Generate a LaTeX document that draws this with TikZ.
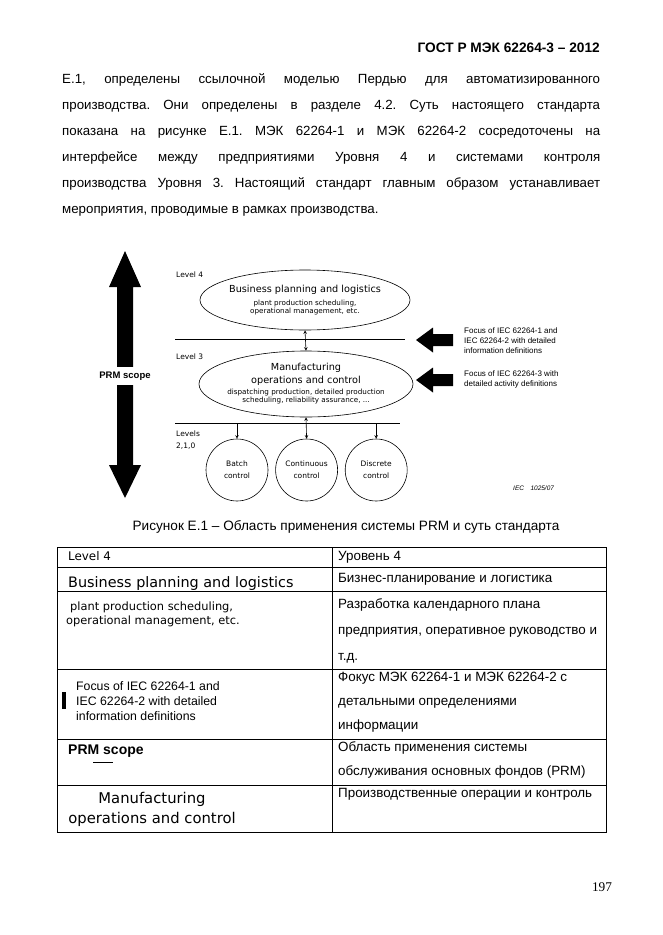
\documentclass[tikz,border=0pt]{standalone}
\usepackage{fontspec}
\setmainfont{Liberation Sans}
\newfontfamily\diafont{DejaVu Sans}
\newfontfamily\pagenofont{Liberation Serif}
\usetikzlibrary{shapes.geometric, arrows, positioning}
\frenchspacing
\newcommand{\ellbig}{\fontsize{9.7}{12}\selectfont}
\tikzstyle{bodytext} = [anchor=north west, inner sep=0pt, text width=538pt, align=justify, font=\fontsize{13.3}{26}\selectfont]
\tikzstyle{level} = [anchor=base west, inner sep=0pt, align=left, font=\diafont\fontsize{7.5}{12}\selectfont]
\tikzstyle{activity} = [ellipse, draw=black, line width=0.6pt, inner sep=0pt]
\tikzstyle{acttext} = [inner sep=0pt, align=center, font=\diafont\fontsize{7.2}{12.5}\selectfont]
\tikzstyle{control} = [circle, draw=black, line width=0.6pt, minimum size=62pt, inner sep=0pt, align=center, font=\diafont\fontsize{7.5}{12}\selectfont]
\tikzstyle{focus} = [anchor=north west, inner sep=0pt, align=left, font=\fontsize{8}{10}\selectfont]
\tikzstyle{link} = [line width=0.6pt, ->, >=stealth]
\tikzstyle{twoway} = [line width=0.6pt, <->, >=stealth]
\tikzstyle{levelline} = [line width=0.6pt]
\tikzstyle{grid} = [line width=0.9pt]
\tikzstyle{cellru} = [anchor=north west, inner sep=0pt, align=left, font=\fontsize{13.4}{26}\selectfont]
\tikzstyle{cellen} = [anchor=base west, inner sep=0pt, align=left]

\begin{document}
\begin{tikzpicture}[x=1pt, y=-1pt]
    \useasboundingbox (0,0) rectangle (662,935);
    \fill [white] (0,0) rectangle (662,935);

    \node (gost) [anchor=base east, inner sep=0pt, font=\bfseries\fontsize{13.7}{16}\selectfont] at (600,52) {ГОСТ Р МЭК 62264-3 – 2012};
    \node (para) [bodytext] at (62,72) {\noindent\rule{0pt}{11pt}Е.1, определены ссылочной моделью Пердью для автоматизированного\linebreak
    производства. Они определены в разделе 4.2. Суть настоящего стандарта\linebreak
    показана на рисунке Е.1. МЭК 62264-1 и МЭК 62264-2 сосредоточены на\linebreak
    интерфейсе между предприятиями Уровня 4 и системами контроля\linebreak
    производства Уровня 3. Настоящий стандарт главным образом устанавливает\linebreak
    мероприятия, проводимые в рамках производства.};

    \fill (125,251) -- (141,287) -- (133,287) -- (133,465) -- (141,465) -- (125,498) -- (109,465) -- (117,465) -- (117,287) -- (109,287) -- cycle;
    \node (prm) [fill=white, inner sep=0pt, minimum height=18pt, minimum width=54pt, font=\bfseries\fontsize{9.5}{11}\selectfont] at (125,376) {PRM scope};

    \node (lev4) [level] at (176,277) {Level 4};
    \node (lev3) [level] at (176,359) {Level 3};
    \node (lev210) [level, anchor=north west] at (176,429) {\rule{0pt}{7pt}Levels\\2,1,0};

    \coordinate (topw) at (175,339);
    \coordinate (tope) at (405,339);
    \coordinate (botw) at (175,423);
    \coordinate (bote) at (400,423);
    \draw [levelline] (topw) -- (tope);
    \draw [levelline] (botw) -- (bote);

    \node (bpl) [activity, minimum width=210pt, minimum height=60pt] at (305,300) {};
    \node (bpltext) [acttext] at (bpl.center) {{\ellbig Business planning and logistics}\\plant production scheduling,\\[-4.2pt]operational management, etc.};
    \node (moc) [activity, minimum width=214pt, minimum height=66pt] at (306,384) {};
    \node (moctext) [acttext] at (moc.center) {{\ellbig Manufacturing}\\{\ellbig operations and control}\\[-1.2pt]dispatching production, detailed production\\[-4.2pt]scheduling, reliability assurance, ...};

    \node (batch) [control] at (237,470) {Batch\\control};
    \node (cont) [control, right=7pt of batch] {Continuous\\control};
    \node (disc) [control, right=7pt of cont] {Discrete\\control};

    \coordinate (batchin) at (batch.north |- botw);
    \coordinate (discin) at (disc.north |- botw);
    \draw [twoway] (bpl.south) -- (moc.north);
    \draw [twoway] (moc.south) -- (cont.north);
    \draw [link] (batchin) -- (batch.north);
    \draw [link] (discin) -- (disc.north);

    \fill (416,340) -- (433,327.5) -- (433,334) -- (453,334) -- (453,346) -- (433,346) -- (433,352.5) -- cycle;
    \fill (416,380) -- (433,367.5) -- (433,374) -- (453,374) -- (453,386) -- (433,386) -- (433,392.5) -- cycle;
    \node (focusA) [focus] at (464,326) {\rule{0pt}{7pt}Focus of IEC 62264-1 and\\IEC 62264-2 with detailed\\information definitions};
    \node (focusB) [focus] at (464,369) {\rule{0pt}{7pt}Focus of IEC 62264-3 with\\detailed activity definitions};

    \node (iecno) [anchor=base west, inner sep=0pt, font=\itshape\fontsize{6.5}{8}\selectfont] at (513,490) {IEC\quad 1025/07};
    \node (caption) [anchor=base, inner sep=0pt, font=\fontsize{13.6}{16}\selectfont] at (346,530.5) {Рисунок Е.1 – Область применения системы PRM и суть стандарта};

    \draw [grid] (57,547) rectangle (606,832);
    \draw [grid] (57,567) -- (606,567) (57,591) -- (606,591) (57,669) -- (606,669) (57,739) -- (606,739) (57,785) -- (606,785);
    \draw [grid] (332,547) -- (332,832);

    \node (en1) [cellen, font=\diafont\fontsize{11.9}{14}\selectfont] at (68,560) {Level 4};
    \node (en2) [cellen, font=\diafont\fontsize{14.4}{16}\selectfont] at (68,587) {Business planning and logistics};
    \node (en3) [cellen, anchor=north west, font=\diafont\fontsize{11.4}{14}\selectfont] at (66,601) {\rule{0pt}{9pt}\hspace{4pt}plant production scheduling,\\operational management, etc.};
    \fill (62,692) rectangle (66,709);
    \node (en4) [cellen, anchor=north west, font=\fontsize{12.3}{15}\selectfont] at (76,681) {\rule{0pt}{9pt}Focus of IEC 62264-1 and\\IEC 62264-2 with detailed\\information definitions};
    \node (en5) [cellen, font=\bfseries\fontsize{14}{16}\selectfont] at (68,754) {PRM scope};
    \draw [levelline] (93,762) -- (113,762);
    \node (en6) [cellen, anchor=north, align=center, font=\diafont\fontsize{14.8}{20}\selectfont] at (152,792) {\rule{0pt}{11pt}Manufacturing\\operations and control};

    \node (ru1) [cellru] at (338,550) {\rule{0pt}{10pt}Уровень 4};
    \node (ru2) [cellru] at (338,572) {\rule{0pt}{10pt}Бизнес-планирование и логистика};
    \node (ru3) [cellru] at (338,598) {\rule{0pt}{10pt}Разработка календарного плана\\предприятия, оперативное руководство и\\т.д.};
    \node (ru4) [cellru, font=\fontsize{13.4}{24}\selectfont] at (338,671) {\rule{0pt}{10pt}Фокус МЭК 62264-1 и МЭК 62264-2 с\\детальными определениями\\информации};
    \node (ru5) [cellru, font=\fontsize{13.4}{24}\selectfont] at (338,741) {\rule{0pt}{10pt}Область применения системы\\обслуживания основных фондов (PRM)};
    \node (ru6) [cellru] at (338,787) {\rule{0pt}{10pt}Производственные операции и контроль};

    \node (pageno) [anchor=base, inner sep=0pt, font=\pagenofont\fontsize{13.3}{16}\selectfont] at (602,891) {197};
\end{tikzpicture}
\end{document}
